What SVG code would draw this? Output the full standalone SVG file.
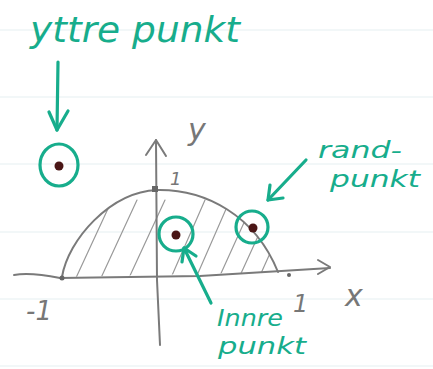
<svg xmlns="http://www.w3.org/2000/svg" width="433" height="369" viewBox="0 0 433 369">
<style>
.paper{stroke:#e6eff1;stroke-width:1.2}
.pencil{fill:none;stroke:#7a7a7a;stroke-width:2;stroke-linecap:round;stroke-linejoin:round}
.hatch{fill:none;stroke:#9a9a9a;stroke-width:1.2;stroke-linecap:round}
.ink{fill:none;stroke:#17ad8c;stroke-width:3.2;stroke-linecap:round;stroke-linejoin:round}
.dot{fill:#4a1616}
.lbl{fill:#17ad8c;font-family:"DejaVu Sans",sans-serif;font-style:italic}
.ax{fill:#777;font-family:"DejaVu Sans",sans-serif;font-style:italic}
</style>
<defs>
<clipPath id="half"><path d="M62,277 C68,240 110,192 157,190 C205,189 255,215 278,272 Z"/></clipPath>
</defs>
<rect width="433" height="369" fill="#ffffff"/>
<g id="paper">
<line class="paper" x1="0" y1="30" x2="433" y2="30"/>
<line class="paper" x1="0" y1="97" x2="433" y2="97"/>
<line class="paper" x1="0" y1="164" x2="433" y2="164"/>
<line class="paper" x1="0" y1="232" x2="433" y2="232"/>
<line class="paper" x1="0" y1="299" x2="433" y2="299"/>
<line class="paper" x1="0" y1="366" x2="433" y2="366"/>
</g>
<g id="region">
<g clip-path="url(#half)">
<line class="hatch" x1="75" y1="280" x2="112" y2="200"/>
<line class="hatch" x1="100" y1="280" x2="137" y2="200"/>
<line class="hatch" x1="128" y1="280" x2="165" y2="200"/>
<line class="hatch" x1="170" y1="280" x2="205" y2="200"/>
<line class="hatch" x1="195" y1="280" x2="230" y2="200"/>
<line class="hatch" x1="218" y1="280" x2="252" y2="205"/>
<line class="hatch" x1="238" y1="280" x2="270" y2="210"/>
<line class="hatch" x1="258" y1="280" x2="285" y2="220"/>
</g>
<path class="pencil" d="M62,277 C68,240 110,192 157,190 C205,189 255,215 278,272"/>
</g>
<g id="axes">
<path class="pencil" d="M14,275 Q30,272 60,278 L200,276 L330,268"/>
<path class="pencil" d="M318,260 L330,267 L318,274"/>
<path class="pencil" d="M160,345 L157,280 L156,140"/>
<path class="pencil" d="M146,155 L156,140 L166,156"/>
<circle cx="62" cy="278" r="2.5" fill="#666"/>
<circle cx="289" cy="275" r="2" fill="#666"/>
<rect x="152" y="186" width="6" height="6" fill="#666"/>
<text class="ax" x="188" y="140" font-size="30">y</text>
<text class="ax" x="345" y="306" font-size="30">x</text>
<text class="ax" x="26" y="320" font-size="26">-1</text>
<text class="ax" x="293" y="312" font-size="24">1</text>
<text class="ax" x="170" y="185" font-size="18">1</text>
</g>
<g id="exterior-point">
<ellipse class="ink" cx="59" cy="165" rx="19" ry="21"/>
<circle class="dot" cx="59" cy="166" r="4.5"/>
</g>
<g id="interior-point">
<circle class="ink" cx="176" cy="234" r="17"/>
<circle class="dot" cx="176" cy="235" r="4.5"/>
</g>
<g id="boundary-point">
<circle class="ink" cx="252" cy="227" r="16"/>
<circle class="dot" cx="253" cy="228" r="4.5"/>
</g>
<g id="label-yttre">
<text class="lbl" x="30" y="42" font-size="36" textLength="210" lengthAdjust="spacingAndGlyphs">yttre punkt</text>
</g>
<g id="label-rand">
<text class="lbl" x="318" y="158" font-size="23" textLength="84" lengthAdjust="spacingAndGlyphs">rand-</text>
<text class="lbl" x="330" y="187" font-size="23" textLength="90" lengthAdjust="spacingAndGlyphs">punkt</text>
</g>
<g id="label-innre">
<text class="lbl" x="217" y="326" font-size="23" textLength="66" lengthAdjust="spacingAndGlyphs">Innre</text>
<text class="lbl" x="218" y="354" font-size="23" textLength="88" lengthAdjust="spacingAndGlyphs">punkt</text>
</g>
<g id="connectors">
<path class="ink" d="M58,62 L57,130"/>
<path class="ink" d="M49,112 L57,130 L68,111"/>
<path class="ink" d="M306,160 L268,200"/>
<path class="ink" d="M270,185 L268,200 L283,198"/>
<path class="ink" d="M211,303 L184,248"/>
<path class="ink" d="M182,262 L184,248 L196,256"/>
</g>
</svg>
